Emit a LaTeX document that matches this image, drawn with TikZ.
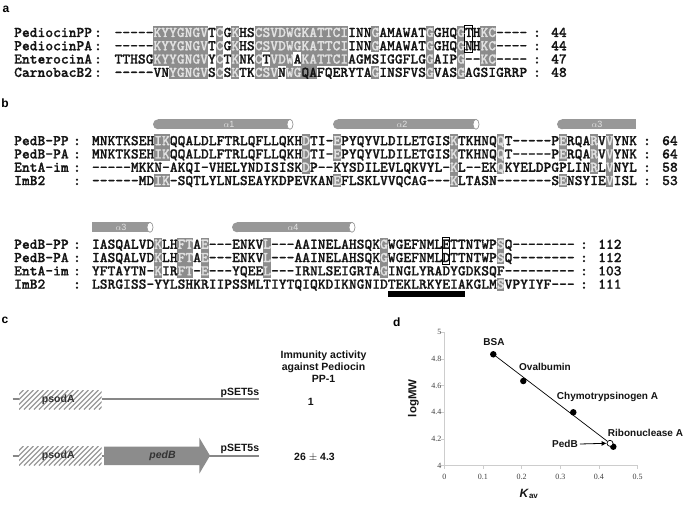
\documentclass[tikz,border=0pt]{standalone}
\usepackage{fontspec}
\setmainfont{Liberation Sans}
\newfontfamily\tickfont{Liberation Serif}
\newfontfamily\seqfont[FakeBold=0.9,Ligatures=TeXOff]{lmmonolt10-bold.otf}
\usetikzlibrary{arrows.meta}
\definecolor{hlgrey}{RGB}{140,140,140}
\definecolor{hltext}{RGB}{226,226,226}
\definecolor{helixgrey}{RGB}{152,152,152}
\definecolor{linegrey}{RGB}{135,135,135}
\definecolor{axisgrey}{RGB}{205,205,205}
\definecolor{txtdark}{RGB}{20,20,20}
\newcommand\hl[1]{\textcolor{hltext}{#1}}
\newcommand\cw{7.784}
\newcommand\rp{13.3}
\newcommand\bo{4.5}
\newcommand\pAx{114.4}
\newcommand\pAy{32.5}
\newcommand\pBx{91.8}
\newcommand\pBy{140.7}
\newcommand\pCy{244.3}
% block: x0, row1 centre, col1, col2, row1, row2, colour
\newcommand\blk[7]{\fill[#7] ({#1+(#3-1)*\cw},{#2+(#5-1)*\rp-6.65}) rectangle ({#1+(#4)*\cw},{#2+(#6-1)*\rp+6.65});}
% helix: x1, x2, yc, label x, label, left round (1/0), right cap (1/0)
\newcommand\helix[7]{%
  \fill[helixgrey] ({#1+5*#6},{#3-5}) rectangle ({#2-3*#7},{#3+5});
  \ifnum#6=1 \fill[helixgrey] ({#1+5},#3) circle (5);\fi
  \ifnum#7=1 \filldraw[fill=white,draw=helixgrey,line width=0.7] ({#2-3},#3) ellipse [x radius=3,y radius=5];\fi
  \node[helixlbl] at (#4,#3) {#5};}
\newcommand\hatchbox[4]{%
  \begin{scope}
  \clip (#1,#2) rectangle (#3,#4);
  \foreach \k in {-25,-20,...,90} {\draw[hatch] ({#1+\k},{#4}) -- ({#1+\k+(#4-#2)},{#2});}
  \end{scope}}
\tikzset{
  seq/.style={anchor=base west,inner sep=0pt,text=txtdark,font=\seqfont\fontsize{14.83}{16}\selectfont},
  seqc/.style={seq,anchor=base},
  helixlbl/.style={inner sep=0pt,text=hltext,font=\fontsize{9}{10}\selectfont},
  plabel/.style={inner sep=0pt,font=\bfseries\fontsize{12}{13}\selectfont},
  ctext/.style={inner sep=0pt,text=txtdark,font=\bfseries\fontsize{10.5}{12}\selectfont,align=center},
  dlabel/.style={inner sep=0pt,text=txtdark,font=\bfseries\fontsize{10}{12}\selectfont},
  tick/.style={inner sep=0pt,text=black!75,font=\tickfont\fontsize{8}{9}\selectfont},
  gline/.style={linegrey,line width=2pt},
  hatch/.style={black!40,line width=1.3pt},
  dot/.style={circle,fill=black,inner sep=0pt,minimum size=6.5pt},
  odot/.style={circle,draw=black,fill=white,line width=0.7pt,inner sep=0pt,minimum size=6pt},
}
\begin{document}
\begin{tikzpicture}[x=1pt,y=-1pt]
\useasboundingbox (0,0) rectangle (685,505);
\fill[white] (0,0) rectangle (685,505);

% ---------------- panel a ----------------
\node[plabel] (la) at (6,9) {a};
\blk{\pAx}{\pAy}{6}{12}{1}{3}{hlgrey}
\blk{\pAx}{\pAy}{8}{12}{4}{4}{hlgrey}
\blk{\pAx}{\pAy}{14}{14}{1}{4}{hlgrey}
\blk{\pAx}{\pAy}{16}{16}{1}{4}{hlgrey}
\blk{\pAx}{\pAy}{19}{21}{1}{4}{hlgrey}
\blk{\pAx}{\pAy}{22}{22}{1}{3}{hlgrey}
\blk{\pAx}{\pAy}{23}{26}{1}{4}{hlgrey}
\blk{\pAx}{\pAy}{27}{30}{1}{3}{hlgrey}
\blk{\pAx}{\pAy}{20}{20}{3}{3}{white}
\blk{\pAx}{\pAy}{24}{24}{3}{3}{white}
\blk{\pAx}{\pAy}{34}{34}{1}{4}{hlgrey}
\blk{\pAx}{\pAy}{34}{34}{3}{3}{white}
\blk{\pAx}{\pAy}{41}{41}{1}{4}{hlgrey}
\blk{\pAx}{\pAy}{45}{45}{1}{4}{hlgrey}
\blk{\pAx}{\pAy}{48}{49}{1}{3}{hlgrey}
\draw[black,line width=0.9pt] ({\pAx+45*\cw},{\pAy-6.65}) rectangle ({\pAx+46*\cw},{\pAy+\rp+6.65});

\node[seq] (an1) at (14,{\pAy+\bo}) {PediocinPP};
\node[seq] (an2) at (14,{\pAy+\rp+\bo}) {PediocinPA};
\node[seq] (an3) at (14,{\pAy+2*\rp+\bo}) {EnterocinA};
\node[seq] (an4) at (14,{\pAy+3*\rp+\bo}) {CarnobacB2};
\foreach \r in {0,1,2,3} {
  \node[seqc] (ac\r) at (98,{\pAy+\r*\rp+\bo}) {:};
  \node[seqc] (ad\r) at (537,{\pAy+\r*\rp+\bo}) {:};
}
\node[seq] (as1) at (\pAx,{\pAy+\bo}) {-----\hl{KYYGNGV}T\hl{C}G\hl{K}HS\hl{CSVDWGKATTCI}INN\hl{G}AMAWAT\hl{G}GHQ\hl{G}TH\hl{KC}----};
\node[seq] (as2) at (\pAx,{\pAy+\rp+\bo}) {-----\hl{KYYGNGV}T\hl{C}G\hl{K}HS\hl{CSVDWGKATTCI}INN\hl{G}AMAWAT\hl{G}GHQ\hl{G}NH\hl{KC}----};
\node[seq] (as3) at (\pAx,{\pAy+2*\rp+\bo}) {TTHSG\hl{KYYGNGV}Y\hl{C}T\hl{K}NK\hl{C}T\hl{VDW}A\hl{KATTCI}AGMSIGGFLG\hl{G}AIP\hl{G}--\hl{KC}----};
\node[seq] (as4) at (\pAx,{\pAy+3*\rp+\bo}) {-----VN\hl{YGNGV}S\hl{C}S\hl{K}TK\hl{CSV}N\hl{WG}QAFQERYTA\hl{G}INSFVS\hl{G}VAS\hl{G}AGSIGRRP};
\node[seq] (aq1) at (551,{\pAy+\bo}) {44};
\node[seq] (aq2) at (551,{\pAy+\rp+\bo}) {44};
\node[seq] (aq3) at (551,{\pAy+2*\rp+\bo}) {47};
\node[seq] (aq4) at (551,{\pAy+3*\rp+\bo}) {48};

% ---------------- panel b ----------------
\node[plabel] (lb) at (5,103) {b};
\helix{153}{293}{124.3}{229}{$\alpha$1}{1}{1}
\helix{333}{479}{124.3}{402}{$\alpha$2}{1}{1}
\helix{557}{636}{124.3}{597}{$\alpha$3}{1}{0}
\helix{92}{153}{227.3}{121}{$\alpha$3}{0}{1}
\helix{232}{355}{227.3}{293}{$\alpha$4}{1}{1}

\blk{\pBx}{\pBy}{9}{10}{1}{4}{hlgrey}
\blk{\pBx}{\pBy}{9}{10}{3}{3}{white}
\blk{\pBx}{\pBy}{28}{28}{1}{3}{hlgrey}
\blk{\pBx}{\pBy}{32}{32}{1}{4}{hlgrey}
\blk{\pBx}{\pBy}{32}{32}{3}{3}{white}
\blk{\pBx}{\pBy}{47}{47}{1}{4}{hlgrey}
\blk{\pBx}{\pBy}{53}{53}{1}{3}{hlgrey}
\blk{\pBx}{\pBy}{61}{61}{1}{4}{hlgrey}
\blk{\pBx}{\pBy}{61}{61}{3}{3}{white}
\blk{\pBx}{\pBy}{65}{65}{1}{3}{hlgrey}
\blk{\pBx}{\pBy}{67}{67}{1}{4}{hlgrey}

\blk{\pBx}{\pCy}{9}{9}{1}{3}{hlgrey}
\blk{\pBx}{\pCy}{12}{13}{1}{3}{hlgrey}
\blk{\pBx}{\pCy}{15}{15}{1}{3}{hlgrey}
\blk{\pBx}{\pCy}{23}{23}{1}{3}{hlgrey}
\blk{\pBx}{\pCy}{38}{38}{1}{3}{hlgrey}
\blk{\pBx}{\pCy}{53}{53}{1}{4}{hlgrey}
\blk{\pBx}{\pCy}{53}{53}{3}{3}{white}
\draw[black,line width=0.9pt] ({\pBx+45*\cw},{\pCy-6.65}) rectangle ({\pBx+46*\cw},{\pCy+\rp+6.65});
\fill[black] ({\pBx+38*\cw},291.3) rectangle ({\pBx+48*\cw},297.3);

\foreach \yy/\tg in {\pBy/b, \pCy/c} {
  \node[seq] (\tg n1) at (14,{\yy+\bo}) {PedB-PP};
  \node[seq] (\tg n2) at (14,{\yy+\rp+\bo}) {PedB-PA};
  \node[seq] (\tg n3) at (14,{\yy+2*\rp+\bo}) {EntA-im};
  \node[seq] (\tg n4) at (14,{\yy+3*\rp+\bo}) {ImB2};
  \foreach \r in {0,1,2,3} {\node[seqc] (\tg c\r) at (77,{\yy+\r*\rp+\bo}) {:};}
}
\foreach \r in {0,1,2,3} {
  \node[seqc] (bd\r) at (647,{\pBy+\r*\rp+\bo}) {:};
  \node[seqc] (cd\r) at (584,{\pCy+\r*\rp+\bo}) {:};
}
\node[seq] (bs1) at (\pBx,{\pBy+\bo}) {MNKTKSEH\hl{IK}QQALDLFTRLQFLLQKH\hl{D}TI-\hl{E}PYQYVLDILETGIS\hl{K}TKHNQ\hl{Q}T-----P\hl{E}RQA\hl{R}V\hl{V}YNK};
\node[seq] (bs2) at (\pBx,{\pBy+\rp+\bo}) {MNKTKSEH\hl{IK}QQALDLFTRLQFLLQKH\hl{D}TI-\hl{E}PYQYVLDILETGIS\hl{K}TKHNQ\hl{Q}T-----P\hl{E}RQA\hl{R}V\hl{V}YNK};
\node[seq] (bs3) at (\pBx,{\pBy+2*\rp+\bo}) {-----MKKN-AKQI-VHELYNDISISK\hl{D}P--KYSDILEVLQKVYL-\hl{K}L--EK\hl{Q}KYELDPGPLIN\hl{R}L\hl{V}NYL};
\node[seq] (bs4) at (\pBx,{\pBy+3*\rp+\bo}) {------MD\hl{IK}-SQTLYLNLSEAYKDPEVKAN\hl{E}FLSKLVVQCAG---\hl{K}LTASN-------S\hl{E}NSYIE\hl{V}ISL};
\node[seq] (bq1) at (662,{\pBy+\bo}) {64};
\node[seq] (bq2) at (662,{\pBy+\rp+\bo}) {64};
\node[seq] (bq3) at (662,{\pBy+2*\rp+\bo}) {58};
\node[seq] (bq4) at (662,{\pBy+3*\rp+\bo}) {53};

\node[seq] (cs1) at (\pBx,{\pCy+\bo}) {IASQALVD\hl{K}LH\hl{FT}A\hl{E}---ENKV\hl{L}---AAINELAHSQK\hl{G}WGEFNMLETTNTWP\hl{S}Q--------};
\node[seq] (cs2) at (\pBx,{\pCy+\rp+\bo}) {IASQALVD\hl{K}LH\hl{FT}A\hl{E}---ENKV\hl{L}---AAINELAHSQK\hl{G}WGEFNMLDTTNTWP\hl{S}Q--------};
\node[seq] (cs3) at (\pBx,{\pCy+2*\rp+\bo}) {YFTAYTN-\hl{K}IR\hl{FT}-\hl{E}---YQEE\hl{L}---IRNLSEIGRTA\hl{G}INGLYRADYGDKSQF---------};
\node[seq] (cs4) at (\pBx,{\pCy+3*\rp+\bo}) {LSRGISS-YYLSHKRIIPSSMLTIYTQIQKDIKNGNIDTEKLRKYEIAKGLM\hl{S}VPYIYF---};
\node[seq] (cq1) at (598,{\pCy+\bo}) {112};
\node[seq] (cq2) at (598,{\pCy+\rp+\bo}) {112};
\node[seq] (cq3) at (598,{\pCy+2*\rp+\bo}) {103};
\node[seq] (cq4) at (598,{\pCy+3*\rp+\bo}) {111};

% ---------------- panel c ----------------
\node[plabel] (lc) at (5,320) {c};
\node[ctext] (hdr) at (323.5,366.5) {Immunity activity\\against Pediocin\\PP-1};
% construct 1
\draw[gline] (12.7,399.3) -- (19,399.3);
\hatchbox{19}{390}{101.7}{409.5}
\draw[gline] (101.7,399.3) -- (259.3,399.3);
\node[ctext,text=black!80] (ps1) at (58.3,399.3) {psodA};
\node[ctext,anchor=base east] (pv1) at (259.3,395.5) {pSET5s};
\node[ctext] (v1) at (310.7,401.7) {1};
% construct 2
\draw[gline] (12.7,455.7) -- (19,455.7);
\hatchbox{19}{446}{101.7}{465.5}
\draw[gline] (101.7,455.7) -- (259.3,455.7);
\fill[hlgrey] (104,446.7) -- (199.3,446.7) -- (199.3,437.7) -- (210,455.7) -- (199.3,473.7) -- (199.3,465) -- (104,465) -- cycle;
\node[ctext,text=black!80] (ps2) at (58.3,455.7) {psodA};
\node[ctext,text=black!80,font=\bfseries\itshape\fontsize{10.5}{12}\selectfont] (pedBg) at (162.5,456) {pedB};
\node[ctext,anchor=base east] (pv2) at (259.3,451.2) {pSET5s};
\node[ctext] (v2) at (314.5,457.3) {26 $\pm$ 4.3};

% ---------------- panel d ----------------
\node[plabel] (ld) at (396.7,322.7) {d};
\draw[axisgrey,line width=0.8pt] (444.3,332.2) -- (444.3,465.7) -- (637.6,465.7);
\foreach \i/\l in {0/4,1/4.2,2/4.4,3/4.6,4/4.8,5/5} {
  \draw[axisgrey,line width=0.8pt] (441.3,{465.7-\i*26.7}) -- (444.3,{465.7-\i*26.7});
  \node[tick,anchor=east] at (441.5,{465.7-\i*26.7}) {\l};
}
\foreach \i/\l in {0/0,1/0.1,2/0.2,3/0.3,4/0.4,5/0.5} {
  \draw[axisgrey,line width=0.8pt] ({444.3+\i*38.66},465.7) -- ({444.3+\i*38.66},468.7);
  \node[tick] at ({444.3+\i*38.66},476.7) {\l};
}
\node[inner sep=0pt,rotate=90,text=txtdark,font=\bfseries\fontsize{11.5}{13}\selectfont] (ylab) at (413.3,398.3) {logMW};
\node[inner sep=0pt,text=txtdark,font=\bfseries\fontsize{12}{13}\selectfont] (xlab) at (529,494) {\textit{K}\textsubscript{av}};
\node[dot] (bsa) at (493.3,354.3) {};
\node[dot] (ova) at (523.3,381) {};
\node[dot] (chy) at (573.3,412.3) {};
\node[dot] (rib) at (613.3,446.7) {};
\node[odot] (pedb) at (610,443.3) {};
\draw[black,line width=0.7pt] (bsa) -- (pedb);
\node[dlabel] (tbsa) at (494,341.7) {BSA};
\node[dlabel] (tova) at (545,367.3) {Ovalbumin};
\node[dlabel] (tchy) at (607.5,397.3) {Chymotrypsinogen A};
\node[dlabel] (trib) at (645.5,432.7) {Ribonuclease A};
\node[dlabel] (tped) at (565,444) {PedB};
\draw[black,line width=0.8pt,-{Latex[length=5pt,width=5pt]}] (tped.east) ++(2,0) -- (pedb.west);
\end{tikzpicture}
\end{document}
